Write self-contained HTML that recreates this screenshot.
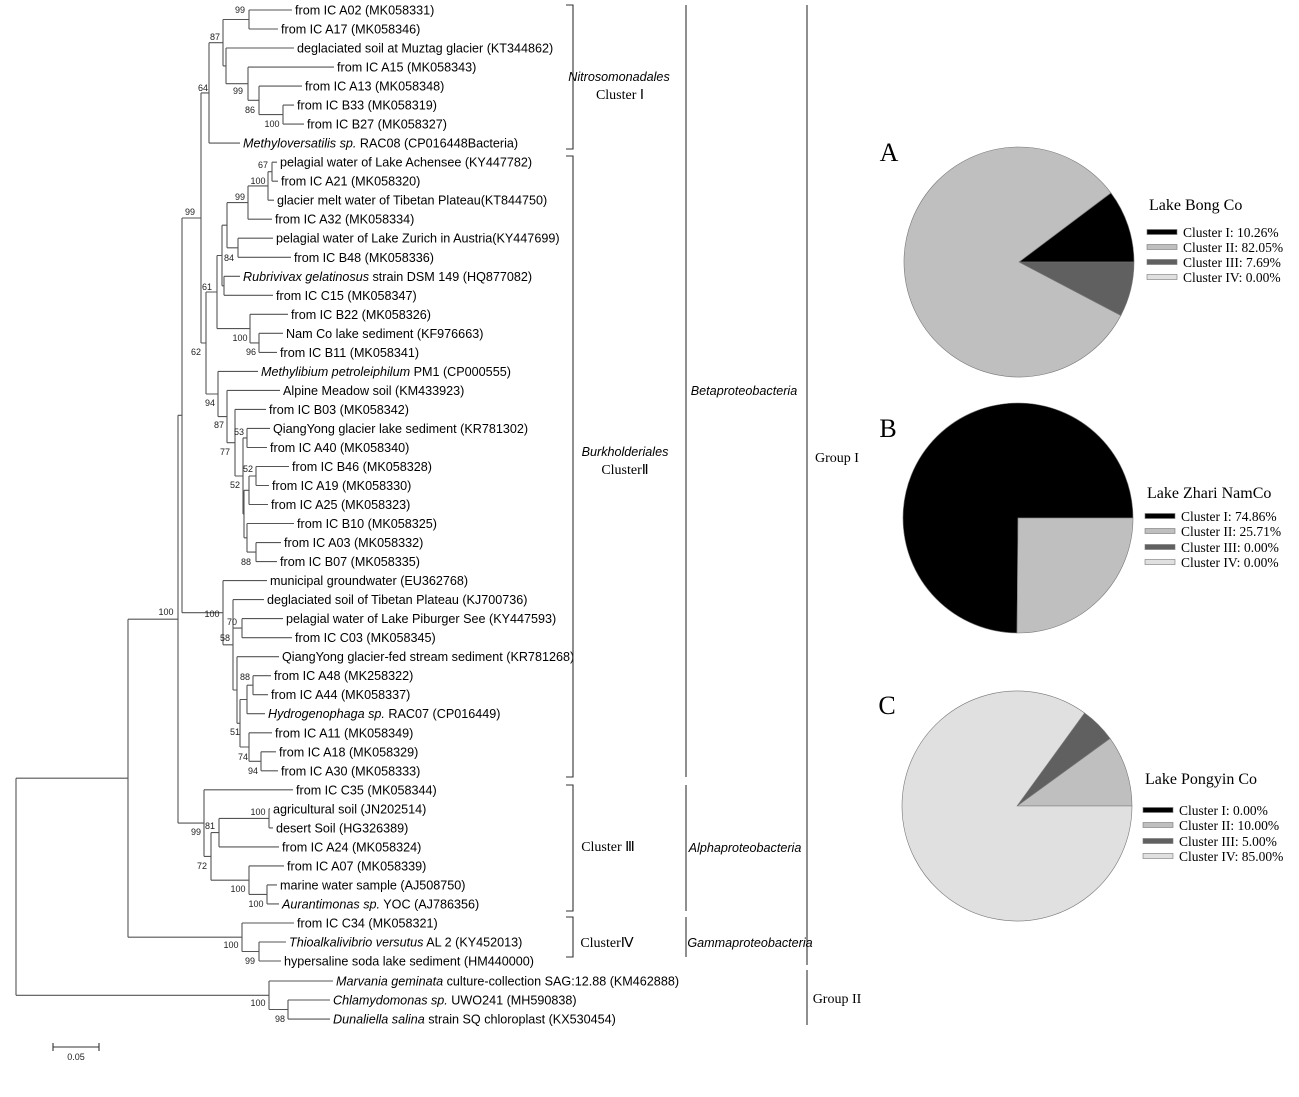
<!DOCTYPE html>
<html><head><meta charset="utf-8">
<style>
html,body{margin:0;padding:0;background:#fff;}
svg{display:block;}
.t{font-family:"Liberation Sans",Arial,sans-serif;font-size:12.6px;fill:#000;}
.b{font-family:"Liberation Sans",Arial,sans-serif;font-size:9px;fill:#222;}
.s{font-family:"Liberation Serif","Times New Roman",serif;fill:#000;}
</style></head>
<body>
<svg id="s" width="1299" height="1097" viewBox="0 0 1299 1097" xmlns="http://www.w3.org/2000/svg">
<g id="tree" stroke="#555" stroke-width="1.1" fill="none"></g>
<g id="txt"></g>
<g stroke="#333" stroke-width="1.1" fill="none">
<path d="M566 5H573V149H566"/>
<path d="M566 156H573V777H566"/>
<path d="M566 785H573V911H566"/>
<path d="M566 917H573V957H566"/>
<path d="M686 5V777"/><path d="M686 785V911"/><path d="M686 917V957"/>
<path d="M807 5V965"/><path d="M807 970V1025"/>
<line x1="53" y1="1047" x2="99" y2="1047"/><line x1="53" y1="1043" x2="53" y2="1051"/><line x1="99" y1="1043" x2="99" y2="1051"/>
</g>
<text x="76" y="1060" class="b" font-size="8" text-anchor="middle">0.05</text>
<text x="619" y="81" class="t" font-style="italic" text-anchor="middle">Nitrosomonadales</text>
<text x="620" y="99" class="s" font-size="14" text-anchor="middle">Cluster Ⅰ</text>
<text x="625" y="456" class="t" font-style="italic" text-anchor="middle">Burkholderiales</text>
<text x="625" y="474" class="s" font-size="14" text-anchor="middle">ClusterⅡ</text>
<text x="608" y="851" class="s" font-size="14" text-anchor="middle">Cluster Ⅲ</text>
<text x="607" y="947" class="s" font-size="14" text-anchor="middle">ClusterⅣ</text>
<text x="744" y="395" class="t" font-style="italic" text-anchor="middle">Betaproteobacteria</text>
<text x="745" y="852" class="t" font-style="italic" text-anchor="middle">Alphaproteobacteria</text>
<text x="750" y="947" class="t" font-style="italic" text-anchor="middle">Gammaproteobacteria</text>
<text x="837" y="462" class="s" font-size="14" text-anchor="middle">Group I</text>
<text x="837" y="1003" class="s" font-size="14" text-anchor="middle">Group II</text>
<g id="pies" stroke="#777" stroke-width="0.6"></g>
<text x="889" y="161" class="s" font-size="26" text-anchor="middle">A</text>
<text x="888" y="437" class="s" font-size="26" text-anchor="middle">B</text>
<text x="887" y="714" class="s" font-size="26" text-anchor="middle">C</text>
<g id="leg"></g>
</svg>
<script>
var NS="http://www.w3.org/2000/svg";
var names=[
["from IC A02 (MK058331)",295],["from IC A17 (MK058346)",281],["deglaciated soil at Muztag glacier (KT344862)",297],["from IC A15 (MK058343)",337],["from IC A13 (MK058348)",305],["from IC B33 (MK058319)",297],["from IC B27 (MK058327)",307],
["<i>Methyloversatilis sp.</i> RAC08 (CP016448Bacteria)",243],
["pelagial water of Lake Achensee (KY447782)",280],["from IC A21 (MK058320)",281],["glacier melt water of Tibetan Plateau(KT844750)",277],["from IC A32 (MK058334)",275],["pelagial water of Lake Zurich in Austria(KY447699)",276],["from IC B48 (MK058336)",294],
["<i>Rubrivivax gelatinosus</i> strain DSM 149 (HQ877082)",243],["from IC C15 (MK058347)",276],["from IC B22 (MK058326)",291],["Nam Co lake sediment (KF976663)",286],["from IC B11 (MK058341)",280],
["<i>Methylibium petroleiphilum</i> PM1 (CP000555)",261],["Alpine Meadow soil (KM433923)",283],["from IC B03 (MK058342)",269],["QiangYong glacier lake sediment (KR781302)",273],["from IC A40 (MK058340)",270],["from IC B46 (MK058328)",292],["from IC A19 (MK058330)",272],["from IC A25 (MK058323)",271],["from IC B10 (MK058325)",297],["from IC A03 (MK058332)",284],["from IC B07 (MK058335)",280],
["municipal groundwater (EU362768)",270],["deglaciated soil of Tibetan Plateau (KJ700736)",267],["pelagial water of Lake Piburger See (KY447593)",286],["from IC C03 (MK058345)",295],["QiangYong glacier-fed stream sediment (KR781268)",282],["from IC A48 (MK258322)",274],["from IC A44 (MK058337)",271],["<i>Hydrogenophaga sp.</i> RAC07 (CP016449)",268],["from IC A11 (MK058349)",275],["from IC A18 (MK058329)",279],["from IC A30 (MK058333)",281],
["from IC C35 (MK058344)",296],["agricultural soil (JN202514)",273],["desert Soil (HG326389)",276],["from IC A24 (MK058324)",282],["from IC A07 (MK058339)",287],["marine water sample (AJ508750)",280],["<i>Aurantimonas sp.</i> YOC (AJ786356)",282],
["from IC C34 (MK058321)",297],["<i>Thioalkalivibrio versutus</i> AL 2 (KY452013)",289],["hypersaline soda lake sediment (HM440000)",284],
["<i>Marvania geminata</i> culture-collection SAG:12.88 (KM462888)",336],["<i>Chlamydomonas sp.</i> UWO241 (MH590838)",333],["<i>Dunaliella salina</i> strain SQ chloroplast (KX530454)",333]];
function ly(i){return 10+19.02*i+(i>=51?1:0);}
var tree=[16,
 [128,
  [178,
   [182,
    [201,
     [209,[223,[249,0,1],[226,2,[248,3,[259,4,[283,5,6]]]]],7],
     [206,
      [217,[222,[227,[248,[268,[272,8,9],10],11],[238,12,13]],[224,14,15]],[250,16,[259,17,18]]],
      [218,19,[227,20,[235,21,[243,[247,22,23],[244,[249,[256,24,25],26],[247,27,[256,28,29]]]]]]]
     ]
    ],
    [223,30,[233,31,[242,32,33],[237,34,[240,[247,[253,35,36],37],[249,38,[261,39,40]]]]]]
   ],
   [204,41,[211,[219,[269,42,43],44],[249,45,[267,46,47]]]]
  ],
  [242,48,[259,49,50]]
 ],
 [269,51,[288,52,53]]
];
var d="";
function draw(n){
 if(typeof n==="number") return {y:ly(n)};
 var x=n[0],ys=[];
 for(var k=1;k<n.length;k++){
  var c=n[k],r=draw(c),cx=(typeof c==="number")?names[c][1]-3:c[0];
  d+="M"+x+" "+r.y.toFixed(1)+"H"+cx;
  ys.push(r.y);
 }
 var y0=ys[0],y1=ys[ys.length-1];
 d+="M"+x+" "+y0.toFixed(1)+"V"+y1.toFixed(1);
 var y=(y0+y1)/2;
 n.y=y;return {y:y};
}
draw(tree);
var g=document.getElementById("tree");
var p=document.createElementNS(NS,"path");p.setAttribute("d",d);g.appendChild(p);
var html="";
for(var i=0;i<names.length;i++){
 html+='<text class="t" x="'+names[i][1]+'" y="'+(ly(i)+4.5).toFixed(1)+'">'+names[i][0].replace(/<i>/g,'<tspan font-style="italic">').replace(/<\/i>/g,'</tspan>')+'</text>';
}
var bs=[[99,240,10],[87,215,37],[99,238,91],[86,250,110],[100,272,124],[64,203,88],[67,263,165],[100,258,181],[99,240,197],[99,190,212],[84,229,258],[61,207,287],[100,240,338],[96,251,352],[62,196,352],[94,210,403],[87,219,425],[53,239,432],[77,225,452],[52,248,469],[52,235,485],[88,246,562],[100,166,612],[100,212,614],[70,232,622],[58,225,638],[88,245,677],[51,235,732],[74,243,757],[94,253,771],[100,258,812],[81,210,826],[99,196,832],[72,202,866],[100,238,889],[100,256,904],[100,231,945],[99,250,961],[100,258,1003],[98,280,1019]];
bs.forEach(function(b){html+='<text class="b" text-anchor="middle" x="'+b[1]+'" y="'+(b[2]+3)+'">'+b[0]+'</text>';});
document.getElementById("txt").innerHTML=html;
var cols=["#000000","#bfbfbf","#606060","#e0e0e0"];
function pie(cx,cy,R,vals){
 var s="",a=0,tot=vals.reduce(function(p,c){return p+c;},0);
 vals.forEach(function(v,k){
  if(v<=0)return;
  var a2=a+v/tot*2*Math.PI;
  var x1=cx+R*Math.cos(a),y1=cy-R*Math.sin(a),x2=cx+R*Math.cos(a2),y2=cy-R*Math.sin(a2);
  s+='<path fill="'+cols[k]+'" d="M'+cx+' '+cy+'L'+x1.toFixed(2)+' '+y1.toFixed(2)+'A'+R+' '+R+' 0 '+((a2-a)>Math.PI?1:0)+' 0 '+x2.toFixed(2)+' '+y2.toFixed(2)+'Z"/>';
  a=a2;
 });
 return s;
}
document.getElementById("pies").innerHTML=
 pie(1019,262,115,[10.26,82.05,7.69,0])+
 pie(1018,518,115,[74.86,25.14,0,0])+
 pie(1017,806,115,[0,10,5,85]);
function leg(x,ty,title,ys,labs){
 var s='<text class="s" font-size="16" x="'+x+'" y="'+ty+'">'+title+'</text>';
 for(var k=0;k<4;k++){
  s+='<rect x="'+(x-2)+'" y="'+(ys[k]-2.5)+'" width="30" height="5" fill="'+cols[k]+'" stroke="#777" stroke-width="0.6"/>';
  s+='<text class="s" font-size="13.5" x="'+(x+34)+'" y="'+(ys[k]+5)+'">'+labs[k]+'</text>';
 }
 return s;
}
document.getElementById("leg").innerHTML=
 leg(1149,210,"Lake Bong Co",[232,247,262,277],["Cluster I: 10.26%","Cluster II: 82.05%","Cluster III: 7.69%","Cluster IV: 0.00%"])+
 leg(1147,498,"Lake Zhari NamCo",[516,531,547,562],["Cluster I: 74.86%","Cluster II: 25.71%","Cluster III: 0.00%","Cluster IV: 0.00%"])+
 leg(1145,784,"Lake Pongyin Co",[810,825,841,856],["Cluster I: 0.00%","Cluster II: 10.00%","Cluster III: 5.00%","Cluster IV: 85.00%"]);
</script>
</body></html>
